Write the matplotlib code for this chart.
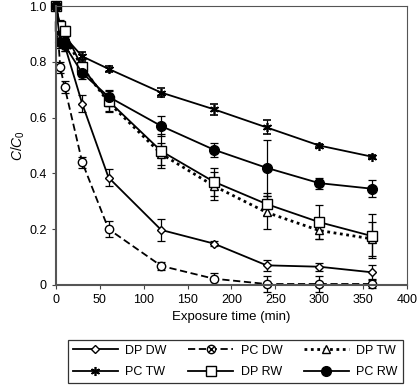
import matplotlib
matplotlib.use("Agg")
import matplotlib.pyplot as plt
from matplotlib.lines import Line2D
import numpy as np

plt.rcParams["font.family"] = ["Liberation Sans", "DejaVu Sans"]
plt.rcParams["mathtext.fontset"] = "custom"
plt.rcParams["mathtext.it"] = "Liberation Sans:italic"
plt.rcParams["mathtext.rm"] = "Liberation Sans"

t = [0, 5, 10, 30, 60, 120, 180, 240, 300, 360]

dp_dw = [1.0, 0.88, 0.86, 0.65, 0.385, 0.197, 0.148, 0.07, 0.065, 0.045]
dp_dw_err = [0.0, 0.02, 0.02, 0.03, 0.03, 0.04, 0.01, 0.02, 0.015, 0.025]
pc_dw = [1.0, 0.78, 0.71, 0.44, 0.20, 0.068, 0.022, 0.003, 0.003, 0.003]
pc_dw_err = [0.0, 0.02, 0.02, 0.02, 0.03, 0.015, 0.02, 0.03, 0.03, 0.015]
dp_tw = [1.0, 0.90, 0.89, 0.78, 0.655, 0.47, 0.355, 0.26, 0.195, 0.165]
dp_tw_err = [0.0, 0.02, 0.02, 0.03, 0.03, 0.04, 0.05, 0.06, 0.03, 0.06]
pc_tw = [1.0, 0.92, 0.89, 0.82, 0.775, 0.69, 0.63, 0.565, 0.50, 0.46]
pc_tw_err = [0.0, 0.02, 0.02, 0.015, 0.01, 0.015, 0.02, 0.025, 0.005, 0.005]
dp_rw = [1.0, 0.93, 0.91, 0.78, 0.66, 0.48, 0.37, 0.29, 0.225, 0.175]
dp_rw_err = [0.0, 0.02, 0.02, 0.03, 0.04, 0.06, 0.05, 0.04, 0.06, 0.08]
pc_rw = [1.0, 0.87, 0.86, 0.76, 0.675, 0.57, 0.485, 0.42, 0.365, 0.345]
pc_rw_err = [0.0, 0.02, 0.02, 0.02, 0.02, 0.035, 0.025, 0.10, 0.02, 0.03]

labels = ["DP DW", "PC DW", "DP TW", "PC TW", "DP RW", "PC RW"]
styles = [
    dict(ls="-", marker="D", mfc="white", ms=4.5, lw=1.3),
    dict(ls=(0, (4, 2)), marker="o", mfc="white", ms=6, lw=1.3),
    dict(ls=(0, (1, 1.3)), marker="^", mfc="white", ms=6, lw=2.0),
    dict(ls="-", marker=(6, 2, 0), mfc="black", ms=6.5, lw=1.3, mew=1.2),
    dict(ls="-", marker="s", mfc="white", ms=7, lw=1.3),
    dict(ls="-", marker="o", mfc="black", ms=7, lw=1.3),
]
series = [(dp_dw, dp_dw_err), (pc_dw, pc_dw_err), (dp_tw, dp_tw_err),
          (pc_tw, pc_tw_err), (dp_rw, dp_rw_err), (pc_rw, pc_rw_err)]

fig = plt.figure(figsize=(4.17, 3.87), dpi=100)
ax = fig.add_axes([0.134, 0.264, 0.842, 0.72])

handles = []
for (y, e), st, lab in zip(series, styles, labels):
    ax.errorbar(t, y, yerr=e, color="black", mec="black", ecolor="black",
                elinewidth=0.9, capsize=3, capthick=0.9, clip_on=False, **st)
    handles.append(Line2D([], [], color="black", mec="black", **st))
# x inside the PC DW circles
ax.plot(t, pc_dw, ls="none", marker="x", color="black", ms=4, mew=1.0)
pcdw_h = (handles[1], Line2D([], [], ls="none", marker="x", color="black", ms=4, mew=1.0))

ax.set_xlim(0, 400)
ax.set_ylim(0, 1.0)
ax.set_xticks(np.arange(0, 401, 50))
ax.set_yticks([0, 0.2, 0.4, 0.6, 0.8, 1.0])
ax.set_yticklabels(["0", "0.2", "0.4", "0.6", "0.8", "1.0"])
ax.tick_params(labelsize=9, direction="out", length=3, color="#444444")
for s in ax.spines.values():
    s.set_color("#555555")
ax.spines["left"].set_linewidth(1.5)
ax.spines["bottom"].set_linewidth(1.5)
ax.set_xlabel("Exposure time (min)", fontsize=9.5, labelpad=4)
ax.set_ylabel(r"$C/C_0$", fontsize=10, labelpad=2)

# matplotlib fills legend column-wise
hs = [handles[0], handles[3], pcdw_h, handles[4], handles[2], handles[5]]
ls_ = [labels[0], labels[3], labels[1], labels[4], labels[2], labels[5]]
leg = fig.legend(hs, ls_, ncol=3, numpoints=1,
                 loc="lower left", bbox_to_anchor=(0.163, 0.01, 0.803, 0.11), mode="expand",
                 borderaxespad=0.0,
                 fontsize=9, frameon=True, fancybox=False, edgecolor="black",
                 handlelength=3.6, columnspacing=1.0, handletextpad=0.6,
                 borderpad=0.4, labelspacing=0.75)
leg.get_frame().set_linewidth(0.9)

fig.savefig("out.png", dpi=100)
